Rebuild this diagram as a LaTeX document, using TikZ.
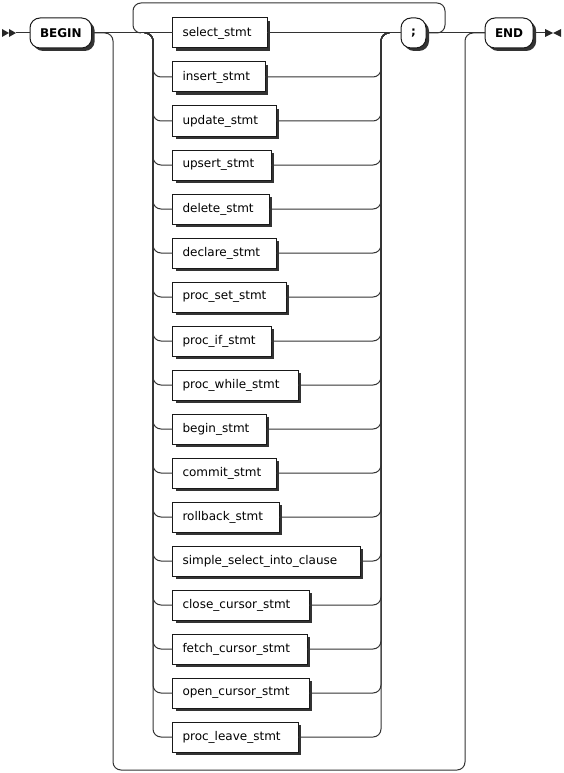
\documentclass[tikz,border=0pt]{standalone}
\usepackage{fontspec}
\setmainfont{DejaVu Sans}
\usetikzlibrary{shadows}
\begin{document}
\begin{tikzpicture}[x=1pt,y=-1pt,
  rail/.style={draw=black!80,line width=1pt,rounded corners=8pt},
  boxbase/.style={draw=black!90,fill=white,line width=1pt,minimum height=30pt,outer sep=0pt,
    drop shadow={shadow xshift=3pt,shadow yshift=-3pt,opacity=1,fill=black!80}},
  nt/.style={boxbase,anchor=west,inner xsep=10pt,align=left,font=\fontsize{12}{14}\selectfont},
  term/.style={boxbase,anchor=west,rounded corners=10pt,font=\fontsize{12}{14}\selectfont\bfseries,inner xsep=10pt,minimum width=25pt},
  endmark/.style={fill=black!85,draw=none}]
\useasboundingbox (0,0) rectangle (563,773);
% terminals
\node[term] (begin) at (30,33) {BEGIN};
\node[term] (semi) at (401,33) {;};
\node[term] (endn) at (485,33) {END};
% nonterminals
\foreach \t/\w [count=\i] in {select\_stmt/94.5,insert\_stmt/92.5,update\_stmt/103.5,upsert\_stmt/98.5,delete\_stmt/96.5,declare\_stmt/103.5,proc\_set\_stmt/113.5,proc\_if\_stmt/98.5,proc\_while\_stmt/125.5,begin\_stmt/93.5,commit\_stmt/103.5,rollback\_stmt/106.5,simple\_select\_into\_clause/187.5,close\_cursor\_stmt/136.5,fetch\_cursor\_stmt/134.5,open\_cursor\_stmt/136.5,proc\_leave\_stmt/125.5}{
  \pgfmathsetmacro\tw{\w-20}
  \node[nt,text width=\tw pt] (n\i) at (172.5,{33+44*(\i-1)}) {\t};
}
% helper coordinates
\coordinate (st) at (16,33);
\coordinate (ed) at (545,33);
\coordinate (byL) at (113,770);
\coordinate (byR) at (465,33);
\coordinate (lpR) at (445,3);
\coordinate (lpL) at (133,33);
\coordinate (lpL2) at (141,33);
\coordinate (spl) at (145,33);
\coordinate (splv) at (153,33);
\coordinate (mrgv) at (381,33);
\coordinate (mrg) at (389,33);
% start / end marks
\path[endmark] (2,29) -- (9,33) -- (2,37) -- cycle;
\path[endmark] (9,29) -- (16,33) -- (9,37) -- cycle;
\path[endmark] (545,29) -- (553,33) -- (545,37) -- cycle;
\path[endmark] (561,29) -- (553,33) -- (561,37) -- cycle;
% main line
\draw[rail] (st) -- (begin.west);
\draw[rail] (begin.east) -- (n1.west);
\draw[rail] (n1.east) -- (semi.west);
\draw[rail] (semi.east) -- (endn.west);
\draw[rail] (endn.east) -- (ed);
% bypass
\draw[rail] (begin.east) -| (byL) -| (byR) -- (endn.west);
% repeat loop
\draw[rail] (semi.east) -| (lpR) -| (lpL) -- (lpL2);
% choice branches
\foreach \i in {2,...,17}{
  \draw[rail] (spl) -| (splv |- n\i.west) -- (n\i.west);
  \draw[rail] (n\i.east) -| (mrgv) -- (mrg);
}
\end{tikzpicture}
\end{document}
